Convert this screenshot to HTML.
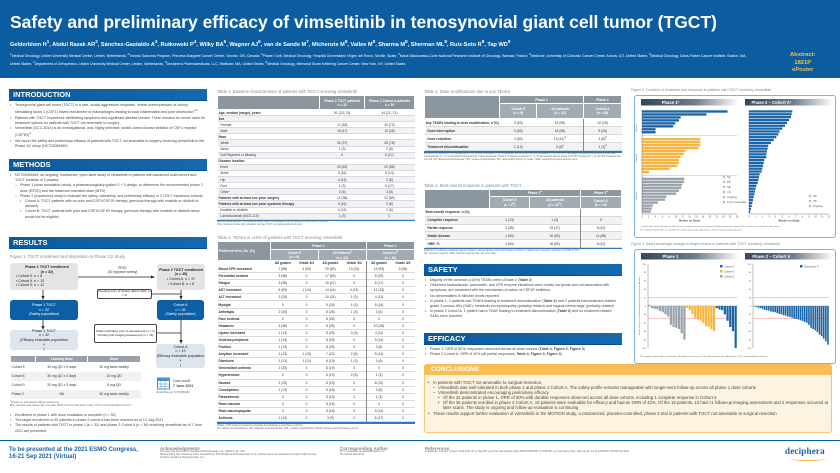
<!DOCTYPE html>
<html><head><meta charset="utf-8">
<style>
*{margin:0;padding:0;box-sizing:border-box}
body{width:840px;height:473px;overflow:hidden;background:#fff;font-family:"Liberation Sans",sans-serif;position:relative;color:#333}
.a{position:absolute}
.hdr{background:linear-gradient(90deg,#0b5a9c,#1569b0);color:#fff;font-weight:bold;font-size:7.5px;padding-left:4px;line-height:12px;height:12px;border-bottom:1px solid #0a4f8a}
.txt{font-size:3.6px;line-height:5.2px;color:#444}
.txt ul{list-style:none}
.txt li{padding-left:5px;position:relative}
.txt li:before{content:"•";position:absolute;left:0}
.txt li.d{padding-left:10px}.txt li.d:before{content:"–";left:5px}
.txt li.s{padding-left:15px}.txt li.s:before{left:10px}
.ttl{font-size:4.2px;color:#7a8a99}
table{border-collapse:collapse;font-size:3.3px;width:100%}
td,th{text-align:center;padding:0 1px;overflow:hidden;white-space:nowrap}
th{background:#8c969f;color:#fff;font-weight:bold;border:0.5px solid #fff}
td:first-child{text-align:left}
.box{position:absolute;font-size:3.6px;text-align:center;display:flex;flex-direction:column;justify-content:center;line-height:4.6px}
.gb{background:#e3e4e6;border-radius:3px;color:#222}
.bb{background:#0d5fa5;border-radius:3px;color:#fff}
.lb{background:#dfe5ec;border-radius:3px;color:#222}
.wb{background:#fff;border:1px solid #444;border-radius:2px;color:#222}
.fn{font-size:2.3px;color:#666;line-height:3px}
</style></head><body>

<div class="a" style="left:0;top:0;width:840px;height:78px;background:#0b5d9f"></div>
<div class="a" style="left:10px;top:12px;font-size:17.5px;font-weight:bold;color:#fff;white-space:nowrap">Safety and preliminary efficacy of vimseltinib in tenosynovial giant cell tumor (TGCT)</div>
<div class="a" style="left:10px;top:39px;font-size:5.6px;font-weight:bold;color:#fff;white-space:nowrap">Gelderblom H<sup>1</sup>, Abdul Razak AR<sup>2</sup>, Sánchez-Gastaldo A<sup>3</sup>, Rutkowski P<sup>4</sup>, Wilky BA<sup>5</sup>, Wagner AJ<sup>6</sup>, van de Sande M<sup>7</sup>, Michenzie M<sup>8</sup>, Vallee M<sup>8</sup>, Sharma M<sup>8</sup>, Sherman ML<sup>8</sup>, Ruiz-Soto R<sup>8</sup>, Tap WD<sup>9</sup></div>
<div class="a" style="left:10px;top:52px;width:740px;font-size:3.5px;line-height:5.4px;color:#fff"><sup>1</sup>Medical Oncology, Leiden University Medical Center, Leiden, Netherlands; <sup>2</sup>Toronto Sarcoma Program, Princess Margaret Cancer Center, Toronto, ON, Canada; <sup>3</sup>Phase I Unit, Medical Oncology, Hospital Universitario Virgen del Rocío, Seville, Spain; <sup>4</sup>Maria Sklodowska-Curie National Research Institute of Oncology, Warsaw, Poland; <sup>5</sup>Medicine, University of Colorado Cancer Center, Aurora, CO, United States; <sup>6</sup>Medical Oncology, Dana-Farber Cancer Institute, Boston, MA, United States; <sup>7</sup>Department of Orthopedics, Leiden University Medical Center, Leiden, Netherlands; <sup>8</sup>Deciphera Pharmaceuticals, LLC, Waltham, MA, United States; <sup>9</sup>Medical Oncology, Memorial Sloan Kettering Cancer Center, New York, NY, United States</div>
<div class="a" style="left:790px;top:52px;font-size:5.8px;font-weight:bold;color:#f2c04c;line-height:7.5px;text-align:center">Abstract:<br>1821P<br>ePoster</div>

<!-- LEFT COLUMN -->
<div class="a hdr" style="left:9px;top:89px;width:198px">INTRODUCTION</div>
<div class="a txt" style="left:10px;top:103px;width:196px"><ul>
<li>Tenosynovial giant cell tumor (TGCT) is a rare, locally aggressive neoplasm, where overexpression of colony-stimulating factor 1 (CSF1) drives recruitment of macrophages leading to local inflammation and joint destruction<sup>1,2</sup></li>
<li>Patients with TGCT experience debilitating symptoms and significant disease burden. There remains an unmet need for treatment options for patients with TGCT not amenable to surgery</li>
<li>Vimseltinib (DCC-3014) is an investigational, oral, highly selective, switch-control kinase inhibitor of CSF1 receptor (CSF1R)<sup>3</sup></li>
<li>We report the safety and preliminary efficacy of patients with TGCT not amenable to surgery receiving vimseltinib in the Phase 1/2 study (NCT03069469)</li></ul></div>
<div class="a hdr" style="left:9px;top:159px;width:198px">METHODS</div>
<div class="a txt" style="left:10px;top:173px;width:196px"><ul>
<li>NCT03069469, an ongoing, multicenter, open-label study of vimseltinib in patients with advanced solid tumors and TGCT consists of 2 phases:</li>
<li class="d">Phase 1 (dose escalation) study, a pharmacologically guided 3 + 3 design, to determine the recommended phase 2 dose (RP2D) and the maximum tolerated dose (MTD)</li>
<li class="d">Phase 2 (expansion) study to evaluate the safety, tolerability, and preliminary efficacy in 2 TGCT expansion cohorts</li>
<li class="s">Cohort A: TGCT patients with no prior anti-CSF1/CSF1R therapy (previous therapy with imatinib or nilotinib is allowed)</li>
<li class="s">Cohort B: TGCT patients with prior anti-CSF1/CSF1R therapy (previous therapy with imatinib or nilotinib alone would not be eligible)</li></ul></div>
<div class="a hdr" style="left:9px;top:237px;width:198px">RESULTS</div>
<div class="a ttl" style="left:10px;top:254px">Figure 1. TGCT enrollment and disposition in Phase 1/2 Study</div>

<div class="box gb" style="left:10px;top:263px;width:68px;height:27px;text-align:left;padding-left:6px"><b style="text-align:center">Phase 1 TGCT enrollment<br>(n = 32)</b>• Cohort 5, n = 8<br>• Cohort 8, n = 12<br>• Cohort 9, n = 12</div>
<div class="box bb" style="left:10px;top:300px;width:68px;height:20px">Phase 1 TGCT<br>n = 32<br>(Safety population)</div>
<div class="box lb" style="left:10px;top:330px;width:68px;height:20px">Phase 1 TGCT<br>n = 32<br>(Efficacy evaluable population<sup>a</sup>)</div>
<div class="box gb" style="left:157px;top:264px;width:48px;height:26px"><b>Phase 2 TGCT enrollment<br>(n = 45)</b>• Cohort A, n = 37<br>• Cohort B, n = 8</div>
<div class="box wb" style="left:97px;top:289px;width:55px;height:10px;font-size:3px;line-height:3.6px">Pending entry of dosing data in EDC (n = 1)</div>
<div class="box bb" style="left:157px;top:300px;width:47px;height:20px">Cohort A<br>n = 36<br>(Safety population)</div>
<div class="box wb" style="left:94px;top:324px;width:63px;height:19px;font-size:3px;line-height:3.6px">Patient withdrew prior to assessment (n = 1)<br>Pending first imaging assessment (n = 16)</div>
<div class="box lb" style="left:156px;top:344px;width:49px;height:24px">Cohort A<br>n = 19<br>(Efficacy evaluable population<sup>a</sup>)</div>
<div class="a" style="left:95px;top:266px;font-size:3.2px;text-align:center;width:55px;line-height:4px">RP2D<br>(30 mg twice weekly)</div>
<svg class="a" style="left:0;top:0" width="220" height="380">
<g stroke="#222" stroke-width="0.8" fill="none"><line x1="78" y1="277" x2="154" y2="277"/><line x1="43" y1="290" x2="43" y2="298"/><line x1="43" y1="320" x2="43" y2="328"/><line x1="181" y1="290" x2="181" y2="298"/><line x1="181" y1="320" x2="181" y2="342"/><line x1="152" y1="294" x2="181" y2="294"/><line x1="157" y1="333" x2="181" y2="333"/></g>
<g fill="#222"><polygon points="155,277 151,275.5 151,278.5"/><polygon points="43,300 41.5,296 44.5,296"/><polygon points="43,330 41.5,326 44.5,326"/><polygon points="181,300 179.5,296 182.5,296"/><polygon points="181,344 179.5,340 182.5,340"/></g></svg>

<div class="a" style="left:10px;top:355px;width:131px"><table style="font-size:3.4px">
<tr style="height:7px"><th style="background:#9aa1a8"></th><th style="background:#9aa1a8">Loading dose</th><th style="background:#9aa1a8">Dose</th></tr>
<tr style="height:9px;background:#fff"><td>Cohort 5</td><td>30 mg QD x 5 days</td><td>30 mg twice weekly</td></tr>
<tr style="height:9px;background:#f0f1f3"><td>Cohort 8</td><td>30 mg QD x 3 days</td><td>10 mg QD</td></tr>
<tr style="height:9px;background:#fff"><td>Cohort 9</td><td>20 mg QD x 3 days</td><td>6 mg QD</td></tr>
<tr style="height:9px;background:#f0f1f3"><td>Phase 2</td><td>NA</td><td>30 mg twice weekly</td></tr></table></div>
<svg class="a" style="left:157px;top:376px" width="14" height="14"><rect x="0.5" y="2" width="12" height="11" fill="#fff" stroke="#4a8fd0"/><rect x="0.5" y="2" width="12" height="3" fill="#4a8fd0"/><g stroke="#4a8fd0" stroke-width="0.5"><line x1="4" y1="5" x2="4" y2="13"/><line x1="8" y1="5" x2="8" y2="13"/><line x1="1" y1="8" x2="12" y2="8"/><line x1="1" y1="10.5" x2="12" y2="10.5"/></g></svg>
<div class="a" style="left:173px;top:379px;font-size:3.6px;line-height:5px;color:#444">Data cutoff<br><b>7 June 2021</b></div>
<div class="a fn" style="left:156px;top:392px">ClinicalTrials.gov: NCT03069469</div>
<div class="a fn" style="left:10px;top:400px;width:140px"><sup>a</sup>At least one post-baseline efficacy assessment.<br>EDC, electronic data capture; QD, once daily; RP2D, recommended phase 2 dose; TGCT, tenosynovial giant cell tumor.</div>
<div class="a txt" style="left:10px;top:413px;width:196px"><ul>
<li>Enrollment in phase 1 with dose escalation is complete (n = 32)</li>
<li>The target enrollment of 40 patients in phase 2 cohort A has been reached as of 13 July 2021</li>
<li>The results of patients with TGCT in phase 1 (n = 32) and phase 2 Cohort A (n = 36) receiving vimseltinib as of 7 June 2021 are presented</li></ul></div>

<!-- COLUMN 2 -->
<div class="a ttl" style="left:217px;top:89px">Table 1. Baseline characteristics of patients with TGCT receiving vimseltinib</div>
<div class="a" id="t1" style="left:217px;top:95px;width:198px"></div>
<div class="a fn" style="left:217px;top:221px;width:198px">Data are presented as n (%) unless otherwise noted. Percentages might not add up to 100% due to rounding.<br>Other locations include wrist, shoulder, and jaw. TGCT, tenosynovial giant cell tumor.</div>
<div class="a ttl" style="left:217px;top:235px">Table 2. TEAEs in ≥15% of patients with TGCT receiving vimseltinib</div>
<div class="a" id="t2" style="left:217px;top:241px;width:198px"></div>
<div class="a fn" style="left:217px;top:425px;width:198px">TEAEs (≥15% incidence) based on all grades for total phase 1 and phase 2 cohort A.<br>ALT, alanine aminotransferase; AST, aspartate aminotransferase; CPK, creatine phosphokinase; TEAE, treatment-emergent adverse event.</div>

<!-- COLUMN 3 -->
<div class="a ttl" style="left:424px;top:89px">Table 3. Dose modifications due to any TEAEs</div>
<div class="a" id="t3" style="left:424px;top:95px;width:198px"></div>
<div class="a fn" style="left:424px;top:153px;width:198px">aCohort 5: G3 edema (n = 1), G2 diarrhea (n = 1), G4 AST increase (n = 1), G3 amylase, G4 CPK, and G4 CPK increased (n = 1); Cohort 8: G2 fatigue, G2 edema, G3 pruritus and G3 rash maculopapular (n = 1), G3 periorbital edema and G3 muscle weakness; Cohort 9: G3 lipase increased (n = 1), G3 generalized edema; phase 2 G2 AST increased (n = 1), G3 CPK increased and G3 rash. ALT, alanine aminotransferase; CPK, creatine phosphokinase; DLT, dose-limiting toxicity; G, Grade; TEAE, treatment-emergent adverse event.</div>
<div class="a ttl" style="left:424px;top:183px">Table 4. Best overall response in patients with TGCT</div>
<div class="a" id="t4" style="left:424px;top:189px;width:198px"></div>
<div class="a fn" style="left:424px;top:250px;width:198px">aRECIST v1.1 efficacy-evaluable patients in phase 1 across all dose cohorts and phase 2 cohort A; 1 patient had a response resulting in an ORR of 57%.<br>CR, complete response; ORR, objective response rate; QD, once daily.</div>
<div class="a hdr" style="left:424px;top:264px;width:198px">SAFETY</div>
<div class="a txt" style="left:425px;top:278px;width:196px"><ul>
<li>Majority of the common (≥15%) TEAEs were ≤Grade 2 (<b>Table 2</b>)</li>
<li>Observed transaminase, pancreatic, and CPK enzyme elevations were mostly low grade and not associated with symptoms; are consistent with the mechanism of action of CSF1R inhibitors</li>
<li>No abnormalities in bilirubin levels reported</li>
<li>In phase 1, 2 patients had TEAEs leading to treatment discontinuation (<b>Table 3</b>) and 2 patients had treatment-related grade 3 serious AEs (SAE): metabolic encephalopathy (possibly related) and vaginal hemorrhage (probably related)</li>
<li>In phase 2 Cohort A, 1 patient had a TEAE leading to treatment discontinuation (<b>Table 3</b>) and no treatment-related SAEs were reported</li></ul></div>
<div class="a hdr" style="left:424px;top:333px;width:198px">EFFICACY</div>
<div class="a txt" style="left:425px;top:347px;width:196px"><ul>
<li>Phase 1: ORR of 50%; responses observed across all dose cohorts (<b>Table 4, Figure 2, Figure 3</b>)</li>
<li>Phase 2 Cohort A: ORR of 42% (all partial responses; <b>Table 4, Figure 2, Figure 3</b>)</li></ul></div>

<!-- CONCLUSIONS -->
<div class="a" style="left:424px;top:364px;width:408px;height:69px;background:#fdf3e1;border:1px solid #f6c873;border-radius:3px"></div>
<div class="a" style="left:424px;top:364px;width:408px;height:11px;background:#f9bd55;border-radius:3px 3px 0 0;color:#fff;font-weight:bold;font-size:6.5px;line-height:11px;padding-left:7px">CONCLUSIONS</div>
<div class="a txt" style="left:428px;top:380px;width:402px;font-size:4.3px;line-height:5.1px"><ul>
<li>In patients with TGCT not amenable to surgical resection,</li>
<li class="d">Vimseltinib was well tolerated in both phase 1 and phase 2 Cohort A. The safety profile remains manageable with longer-term follow-up across all phase 1 dose cohorts</li>
<li class="d">Vimseltinib demonstrated encouraging preliminary efficacy</li>
<li class="s">Of the 32 patients in phase 1, ORR of 50% with durable responses observed across all dose cohorts, including 1 complete response in Cohort 5</li>
<li class="s">Of the 36 patients enrolled in phase 2 Cohort A, 19 patients were evaluable for efficacy and had an ORR of 42%. Of the 19 patients, 10 had &gt;1 follow-up imaging assessment and 2 responses occurred at later scans. The study is ongoing and follow-up evaluation is continuing</li>
<li>These results support further evaluation of vimseltinib in the MOTION study, a randomized, placebo-controlled, phase 3 trial in patients with TGCT not amenable to surgical resection</li></ul></div>

<!-- COLUMN 4 FIGURES -->
<div class="a ttl" style="left:631px;top:88px;font-size:3.6px">Figure 2. Duration of treatment and response in patients with TGCT receiving vimseltinib</div>
<div class="a" style="left:634px;top:95px;width:202px;height:143px;border:1px solid #7fb2dc;border-radius:3px"></div>
<div class="a ttl" style="left:631px;top:242px;font-size:3.6px">Figure 3. Best percentage change in target lesions in patients with TGCT receiving vimseltinib</div>
<div class="a" style="left:634px;top:249px;width:202px;height:115px;border:1px solid #7fb2dc;border-radius:3px"></div>
<svg class="a" id="figs" style="left:0;top:0" width="840" height="473"></svg>

<!-- FOOTER -->
<div class="a" style="left:0;top:440px;width:840px;height:1px;background:#0b5d9f"></div>
<div class="a" style="left:9px;top:447px;font-size:6px;font-weight:bold;color:#1b63a5;line-height:7px">To be presented at the 2021 ESMO Congress,<br>16-21 Sep 2021 (Virtual)</div>
<div class="a" style="left:160px;top:446px;width:160px"><div style="font-size:4.5px;font-weight:bold;color:#7a8a99">Acknowledgments</div><div class="fn">This study was sponsored by Deciphera Pharmaceuticals, LLC, Waltham, MA, USA.<br>Medical writing was provided by Chloe Charalambous, PhD (Deciphera Pharmaceuticals, LLC); editorial support was provided by Dumbar Health and was funded by Deciphera Pharmaceuticals, LLC.</div></div>
<div class="a" style="left:340px;top:446px;width:75px"><div style="font-size:4.5px;font-weight:bold;color:#7a8a99">Corresponding Author</div><div class="fn">Dr. H. Gelderblom (a.j.gelderblom@lumc.nl)<br>No financial disclosures</div></div>
<div class="a" style="left:425px;top:446px;width:215px"><div style="font-size:4.5px;font-weight:bold;color:#7a8a99">References</div><div class="fn">1) Staals EL, et al. Eur J Cancer. 2016;63:34-40; 2) West RB, et al. Proc Natl Acad Sci USA. 2006;103:690-695; 3) Smith BD, et al. Mol Cancer Ther. 2021 Aug 25. doi:10.1158/1535-7163.MCT-21-0361</div></div>
<div class="a" style="left:785px;top:446px;font-family:'Liberation Serif',serif;font-size:9px;font-weight:bold;color:#1b63a5;letter-spacing:0.2px">deciphera</div>
<div class="a" style="left:790px;top:457px;width:36px;height:4px;border-bottom:1px solid #f2b84a;border-radius:0 0 50% 50%"></div>

<script>
// ---------- Figure 2 data (months on study) ----------
const p1Cohort5 = [25.2, 19, 11.4, 10.9, 9.8, 9.2, 4, 4];
const p1Cohort8 = [17.2, 17.2, 17.2, 16.7, 12.8, 12.3, 11.4, 10.9, 10.9, 10.4, 8.1, 2.1];
const p1Cohort9 = [12.5, 12.4, 11.8, 11.6, 10.9, 10.1, 7.2, 6.8, 4.7, 3.2, 2.9, 2.6];
const p2Durations = [6.5, 6.4, 6.3, 6.0, 5.7, 5.4, 5.0, 4.6, 4.4, 4.1, 3.7, 3.3, 2.9, 2.8, 2.7, 2.6, 2.6, 2.3, 2.2, 2.1, 2.0, 1.9, 1.6, 1.5, 1.4, 1.3, 1.1, 1.0, 0.9, 0.8, 0.7, 0.6, 0.5, 0.4, 0.3, 0.2];
const p1MonthTicks = [0,2,4,6,8,10,12,14,16,18,20,22,24,26,28];
const p2MonthTicks = [0,1,2,3,4,5,6,7,8,9,10,11,12];
// ---------- Figure 3 data (best % change) ----------
const wfCohort9 = [3, -5, -7, -8, -12, -15, -20, -25, -45, -50, -52, -55, -65, -80];
const wfCohort8 = [-5, -10, -20, -28, -32, -35, -40, -48, -50, -55, -60];
const wfCohort5 = [-5, -8, -10, -20, -35, -50, -60, -100];
const wfPhase2 = [-1, -2, -4, -5, -7, -9, -10, -11, -13, -14, -15, -17, -19, -20, -22, -23, -25, -26, -28, -30, -31, -32, -34, -36, -38, -40, -45, -52, -55, -58, -62, -68, -72, -78, -84, -92];
const pctTicks = [100,80,60,40,20,0,-20,-40,-60,-80,-100];

const NS='http://www.w3.org/2000/svg';
const svg=document.getElementById('figs');
function mk(tag,attrs,parent){const e=document.createElementNS(NS,tag);for(const k in attrs)e.setAttribute(k,attrs[k]);(parent||svg).appendChild(e);return e;}
function txt(x,y,s,size,fill,anchor,weight){const t=mk('text',{x:x,y:y,'font-size':size,fill:fill,'text-anchor':anchor||'start','font-family':'Liberation Sans, sans-serif','font-weight':weight||'normal'});t.textContent=s;return t;}
const BLUE='#1a64a8',YEL='#f7b53f',GRY='#9aa3ad';

function panelHeader(x,y,w,label){
  const g=mk('linearGradient',{id:'g'+x,x1:0,x2:1,y1:0,y2:0});
  mk('stop',{offset:0,'stop-color':'#34455a'},g);mk('stop',{offset:0.55,'stop-color':'#6f7d8c'},g);mk('stop',{offset:1,'stop-color':'#ffffff'},g);
  svg.appendChild(g);
  const r=mk('rect',{x:x,y:y,width:w,height:6.5,fill:'url(#g'+x+')'});
  
  
  const t=txt(x+w*0.3,y+4.8,label,4.2,'#fff','middle','bold');
  
  
}

// ---- Figure 2 Phase 1 swimmer ----
panelHeader(641,99,98,'Phase 1ª');
panelHeader(745,99,88,'Phase 2 – Cohort Aª');
const s1={x0:642,x1:737,max:28,top:110,bottom:213};
const sx1=v=>s1.x0+(v/s1.max)*(s1.x1-s1.x0);
const cohorts=[[p1Cohort5,BLUE],[p1Cohort8,YEL],[p1Cohort9,GRY]];
const nRows=p1Cohort5.length+p1Cohort8.length+p1Cohort9.length;
const gap=4;const rowH=(s1.bottom-s1.top-2*gap)/nRows;
let yy=s1.top;
cohorts.forEach((c,ci)=>{
  c[0].forEach(v=>{
    const r=mk('rect',{x:sx1(0),y:yy+0.3,width:sx1(v)-sx1(0),height:rowH-0.6,fill:c[1]});
    
    
    yy+=rowH;
  });
  if(ci<2){mk('line',{x1:s1.x0,x2:s1.x1,y1:yy+gap/2,y2:yy+gap/2,stroke:'#f0a0a0','stroke-width':0.6});yy+=gap;}
});
mk('line',{x1:s1.x0,x2:s1.x1,y1:s1.bottom+1,y2:s1.bottom+1,stroke:'#555','stroke-width':0.4});
mk('line',{x1:s1.x0,x2:s1.x0,y1:s1.top,y2:s1.bottom+1,stroke:'#555','stroke-width':0.4});
p1MonthTicks.forEach(t=>{const l=txt(sx1(t),s1.bottom+4.5,String(t),2.3,'#555','middle');});
txt((s1.x0+s1.x1)/2,s1.bottom+8.5,'Months on Study',2.6,'#444','middle','bold');
['SD','PR','NE','CR','Ongoing','From Local Data'].forEach((s,i)=>{
  mk('circle',{cx:724,cy:177+i*5,r:1,fill:'#fff',stroke:'#666','stroke-width':0.4});
  const l=txt(727,178+i*5,s,2.6,'#555');
});
txt(637,128,'Cohort 5',2.2,'#555','middle').setAttribute('transform','rotate(-90 637 128)');
txt(637,158,'Cohort 8',2.2,'#555','middle').setAttribute('transform','rotate(-90 637 158)');
txt(637,196,'Cohort 9',2.2,'#555','middle').setAttribute('transform','rotate(-90 637 196)');

// ---- Figure 2 Phase 2 swimmer ----
const s2={x0:749,x1:829,max:12,top:110,bottom:213};
const sx2=v=>s2.x0+(v/s2.max)*(s2.x1-s2.x0);
const rh2=(s2.bottom-s2.top)/p2Durations.length;
p2Durations.forEach((v,i)=>{
  const r=mk('rect',{x:sx2(0),y:s2.top+i*rh2+0.3,width:sx2(v)-sx2(0),height:rh2-0.6,fill:BLUE});
  
  
});
mk('line',{x1:s2.x0,x2:s2.x1,y1:s2.bottom+1,y2:s2.bottom+1,stroke:'#555','stroke-width':0.4});
mk('line',{x1:s2.x0,x2:s2.x0,y1:s2.top,y2:s2.bottom+1,stroke:'#555','stroke-width':0.4});
p2MonthTicks.forEach(t=>{const l=txt(sx2(t),s2.bottom+4.5,String(t),2.3,'#555','middle');});
txt((s2.x0+s2.x1)/2,s2.bottom+8.5,'Months on Study',2.6,'#444','middle','bold');
['SD','PR','Ongoing'].forEach((s,i)=>{
  mk('circle',{cx:810,cy:196+i*5,r:1,fill:'#fff',stroke:'#666','stroke-width':0.4});
  const l=txt(813,197+i*5,s,2.6,'#555');
});
txt(640,227,'ª 1 patient had a local assessment for efficacy, but no central assessment was performed. Median duration of treatment of 15.1 months across all phase 1 dose cohorts.',1.9,'#666');
txt(640,230.5,'CR, complete response; NE, not evaluable; PR, partial response; SD, stable disease; TGCT, tenosynovial giant cell tumor.',1.9,'#666');

// ---- Figure 3 waterfall ----
panelHeader(641,253,98,'Phase 1');
panelHeader(745,253,88,'Phase 2 – Cohort A');
const w={top:264,bottom:348};
const wy=v=>w.top+(100-v)/200*(w.bottom-w.top);
function waterfall(x0,x1,series,cls){
  const total=series.reduce((a,s)=>a+s[0].length,0);
  const bw=(x1-x0)/total;let i=0;
  pctTicks.forEach(t=>{const l=txt(x0-2,wy(t)+0.8,String(t),2,'#555','end');});
  mk('line',{x1:x0,x2:x0,y1:w.top,y2:w.bottom,stroke:'#555','stroke-width':0.4});
  [20,-30].forEach(t=>mk('line',{x1:x0,x2:x1,y1:wy(t),y2:wy(t),stroke:'#f0a0a0','stroke-width':0.6}));
  mk('line',{x1:x0,x2:x1,y1:wy(0),y2:wy(0),stroke:'#777','stroke-width':0.4});
  series.forEach(s=>s[0].forEach(v=>{
    const y=Math.min(wy(v),wy(0)),h=Math.abs(wy(v)-wy(0));
    const r=mk('rect',{x:x0+i*bw+0.25,y:y,width:bw-0.5,height:h,fill:s[1]});
    
    
    i++;
  }));
}
waterfall(648,737,[[wfCohort9,GRY],[wfCohort8,YEL],[wfCohort5,BLUE]],'waterfall-bar-phase1');
waterfall(753,829,[[wfPhase2,BLUE]],'waterfall-bar-phase2');
[['Cohort 5',BLUE],['Cohort 8',YEL],['Cohort 9',GRY]].forEach((l,i)=>{
  mk('rect',{x:720,y:265+i*5,width:2.5,height:2.5,fill:l[1]});
  const t=txt(724,267.3+i*5,l[0],2.6,'#555');
});
mk('rect',{x:800,y:265,width:2.5,height:2.5,fill:BLUE});
txt(804,267.3,'Expansion A',2.6,'#555');
const yt=txt(640,306,'Percent Change in Sum of Diameters of Target Lesions from Baseline',1.9,'#555','middle');
yt.setAttribute('transform','rotate(-90 640 306)');
txt(640,357,'CR, complete response; NE, not evaluable; ORR, objective response rate; PR, partial response; SD, stable disease; TGCT, tenosynovial giant cell tumor.',1.9,'#666');

// ---------- Tables ----------
function buildTable(id,head,rows,rowH,opts){
  const host=document.getElementById(id);
  const tb=document.createElement('table');
  
  
  tb.innerHTML=head;
  rows.forEach((r,i)=>{
    const tr=document.createElement('tr');
    
    
    tr.style.height=rowH+'px';
    tr.style.background=(opts&&opts.stripe&&i%2)?'#f1f2f4':'#fff';
    tr.style.borderBottom='0.5px solid #d6d9dd';
    r.forEach((c,j)=>{const td=document.createElement('td');td.innerHTML=c;if(j==0&&opts&&opts.bold)td.style.fontWeight='bold';if(opts&&opts.sep&&opts.sep.includes(j))td.style.borderLeft='1px solid #888';tr.appendChild(td);});
    tb.appendChild(tr);
  });
  host.appendChild(tb);
  const bl=document.createElement('div');bl.style.cssText='height:1.5px;background:#2e78bf';host.appendChild(bl);
}
const t1rows=[['<b>Age, median (range), years</b>','51 (23–73)','44 (21–71)'],['<b>Sex</b>','',''],['&nbsp;&nbsp;Female','17 (53)','26 (72)'],['&nbsp;&nbsp;Male','15 (47)','10 (28)'],['<b>Race</b>','',''],['&nbsp;&nbsp;White','31 (97)','28 (78)'],['&nbsp;&nbsp;Asian','1 (3)','2 (6)'],['&nbsp;&nbsp;Not Reported or Missing','0','6 (17)'],['<b>Disease location</b>','',''],['&nbsp;&nbsp;Knee','20 (63)','20 (56)'],['&nbsp;&nbsp;Ankle','5 (16)','5 (14)'],['&nbsp;&nbsp;Hip','4 (13)','2 (6)'],['&nbsp;&nbsp;Foot','1 (3)','6 (17)'],['&nbsp;&nbsp;Other*','2 (6)','3 (8)'],['<b>Patients with at least one prior surgery</b>','12 (38)','32 (89)'],['<b>Patients with at least one prior systemic therapy</b>','5 (16)','2 (6)'],['&nbsp;&nbsp;Imatinib or nilotinib','4 (13)','2 (6)'],['&nbsp;&nbsp;Lacnotuzumab (MCS-110)','1 (3)','0']];
buildTable('t1','<tr style="height:14px"><th style="width:52%"></th><th>Phase 1 TGCT patients<br>n = 32</th><th>Phase 2 Cohort A patients<br>n = 36</th></tr>',t1rows,6.1,{stripe:true});

const t2rows=[['Blood CPK increased','7 (88)','4 (50)','20 (63)','10 (31)','19 (53)','9 (25)'],['Periorbital oedema','3 (38)','0','17 (53)','0','8 (22)','0'],['Fatigue','3 (38)','0','15 (47)','0','6 (17)','0'],['AST increased','5 (63)','1 (13)','14 (44)','4 (13)','12 (33)','0'],['ALT increased','2 (25)','0','10 (31)','1 (3)','4 (11)','0'],['Myalgia','0','0','9 (28)','1 (3)','5 (14)','0'],['Arthralgia','2 (25)','0','8 (25)','1 (3)','2 (6)','0'],['Face oedema','0','0','8 (25)','0','0','0'],['Headache','3 (38)','0','8 (25)','0','10 (28)','0'],['Lipase increased','1 (13)','0','8 (25)','3 (9)','4 (11)','0'],['Oedema peripheral','1 (13)','0','8 (25)','0','5 (14)','0'],['Pruritus','1 (13)','0','8 (25)','0','3 (8)','0'],['Amylase increased','1 (13)','1 (13)','7 (22)','2 (6)','5 (14)','0'],['Diarrhoea','1 (13)','1 (13)','6 (19)','1 (3)','2 (6)','0'],['Generalised oedema','2 (25)','0','6 (19)','0','0','0'],['Hypertension','0','0','6 (19)','2 (6)','1 (3)','0'],['Nausea','2 (25)','0','6 (19)','0','8 (22)','0'],['Constipation','1 (13)','0','5 (16)','0','2 (6)','0'],['Paraesthesia','0','0','5 (16)','0','1 (3)','0'],['Rash macular','0','0','5 (16)','0','0','0'],['Rash maculopapular','0','0','5 (16)','0','5 (14)','0'],['Asthenia','1 (13)','0','3 (9)','0','6 (17)','0']];
buildTable('t2','<tr style="height:8px"><th rowspan="2" style="width:27%;text-align:left">Preferred term, No. (%)</th><th colspan="4">Phase 1</th><th colspan="2" style="border-left:1px solid #555">Phase 2</th></tr><tr style="height:11px"><th colspan="2" style="background:#a2aab2">Cohort 5<br>(n = 8)</th><th colspan="2" style="background:#a2aab2">All Patients<sup>a</sup><br>(n = 32)</th><th colspan="2" style="background:#a2aab2;border-left:1px solid #555">Cohort A<sup>a</sup><br>(n = 36)</th></tr><tr style="height:5px;font-weight:bold"><td></td><td>All grades</td><td>Grade 3/4</td><td>All grades</td><td>Grade 3/4</td><td style="border-left:1px solid #888">All grades</td><td>Grade 3/4</td></tr>',t2rows,7.1,{bold:true,sep:[5]});

const t3rows=[['<b>Any TEAEs leading to dose modification, n (%)</b>','5 (63)','19 (59)','10 (28)'],['&nbsp;&nbsp;<b>Dose interruption</b>','5 (63)','18 (56)','9 (25)'],['&nbsp;&nbsp;<b>Dose reduction</b>','4 (50)','13 (41)<sup>a</sup>','3 (8)<sup>b</sup>'],['&nbsp;&nbsp;<b>Treatment discontinuation</b>','1 (13)','2 (6)<sup>c</sup>','1 (3)<sup>d</sup>']];
buildTable('t3','<tr style="height:8px"><th rowspan="2" style="width:33%"></th><th colspan="2">Phase 1</th><th style="border-left:1px solid #555">Phase 2</th></tr><tr style="height:15px"><th style="background:#a2aab2">Cohort 5<br>(n = 8)</th><th style="background:#a2aab2">All patients<br>(n = 32)</th><th style="background:#a2aab2;border-left:1px solid #555">Cohort A<br>(n = 36)</th></tr>',t3rows,8,{stripe:true,sep:[3]});

const t4rows=[['<b>Best overall response, n (%)</b>','','',''],['&nbsp;&nbsp;<b>Complete response</b>','1 (13)','1 (3)','0'],['&nbsp;&nbsp;<b>Partial response</b>','3 (38)','15 (47)','8 (42)'],['&nbsp;&nbsp;<b>Stable disease</b>','4 (50)','16 (50)','11 (58)'],['&nbsp;&nbsp;<b>ORR, %</b>','4 (50)','16 (50)','8 (42)']];
buildTable('t4','<tr style="height:7px"><th rowspan="2" style="width:33%"></th><th colspan="2">Phase 1<sup>a</sup></th><th style="border-left:1px solid #555">Phase 2<sup>a</sup></th></tr><tr style="height:12px"><th style="background:#a2aab2">Cohort 5<br>(n = 8<sup>b</sup>)</th><th style="background:#a2aab2">All patients<br>(n = 32<sup>b</sup>)</th><th style="background:#a2aab2;border-left:1px solid #555">Cohort A<br>(n = 19)</th></tr>',t4rows,7.8,{stripe:true,sep:[3]});
</script>
</body></html>
